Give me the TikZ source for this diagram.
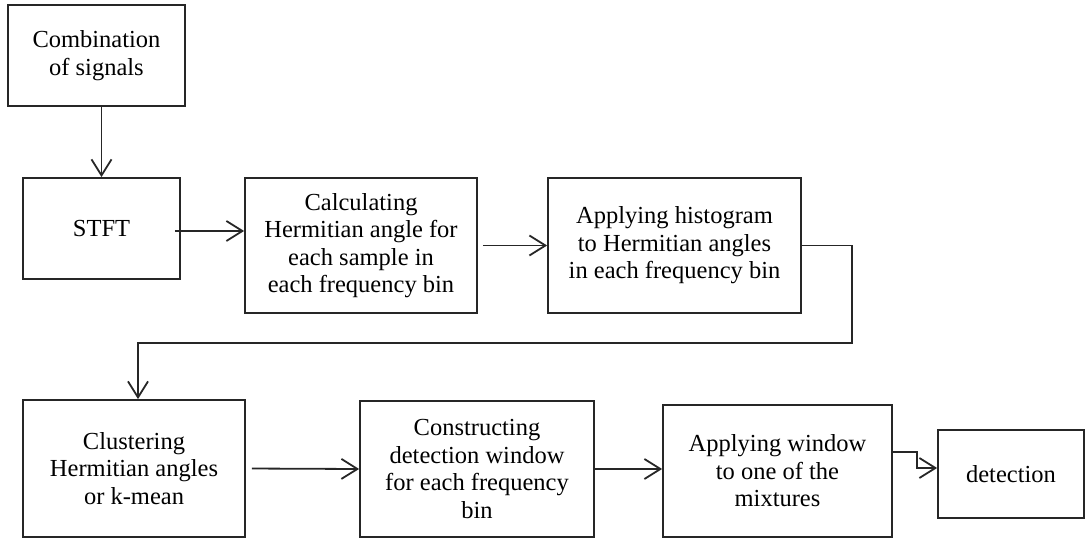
\documentclass[tikz,border=0pt]{standalone}
\usepackage{fontspec}
\setmainfont{Liberation Serif}
\usetikzlibrary{arrows.meta}

\tikzset{
  block/.style={draw=black!85, line width=1.8pt, align=center, inner sep=0pt,
    font=\fontsize{24.5}{27.5}\selectfont},
  arr/.style={draw=black!85, line width=1.8pt, -{Straight Barb[length=16pt, width=20pt, line width=1.8pt]}}
}

\begin{document}
\begin{tikzpicture}[x=1pt, y=1pt]
             \useasboundingbox (0, 0) rectangle (1086, 538);
             %\draw[lightgray] (0, 0) grid[step=50] (1086, 538);
             \node[block, minimum width=177, minimum height=101] (comb) at (96.5, 482.5) {Combination\\of signals};
             \node[block, minimum width=157, minimum height=101] (stft) at (101.5, 309.5) {STFT};
             \node[block, minimum width=232, minimum height=135] (calc) at (361, 292.5) {Calculating\\Hermitian angle for\\each sample in\\each frequency bin};
             \node[block, minimum width=253, minimum height=135] (hist) at (674.5, 292.5) {Applying histogram\\to Hermitian angles\\in each frequency bin};
             \node[block, minimum width=222, minimum height=137] (clus) at (134, 69.5) {Clustering\\Hermitian angles\\or k-mean};
             \node[block, minimum width=234, minimum height=136] (const) at (477, 69) {Constructing\\detection window\\for each frequency\\bin};
             \node[block, minimum width=229, minimum height=132] (apply) at (777.5, 67) {Applying window\\to one of the\\mixtures};
             \node[block, minimum width=146, minimum height=88] (det) at (1011, 64) {detection};
             \coordinate (turn) at (852, 195);
             \draw[arr] (comb.south -| stft.north) -- (stft.north);
             \draw[arr, shorten <=-6pt] ([yshift=-2.5pt]stft.east) -- ([yshift=-2.5pt]stft.east -| calc.west);
             \draw[arr, shorten <=5pt] (calc.east) -- (hist.west);
             \draw[arr] (hist.east) -| (turn) -| ([xshift=4pt]clus.north);
             \draw[arr, shorten <=6pt] (clus.east) -- (const.west);
             \draw[arr] (const.east) -- (const.east -| apply.west);
             \draw[arr] ([yshift=19pt]apply.east) -- ++(24, 0) |- ([yshift=6pt]det.west);
         \end{tikzpicture}
\end{document}
